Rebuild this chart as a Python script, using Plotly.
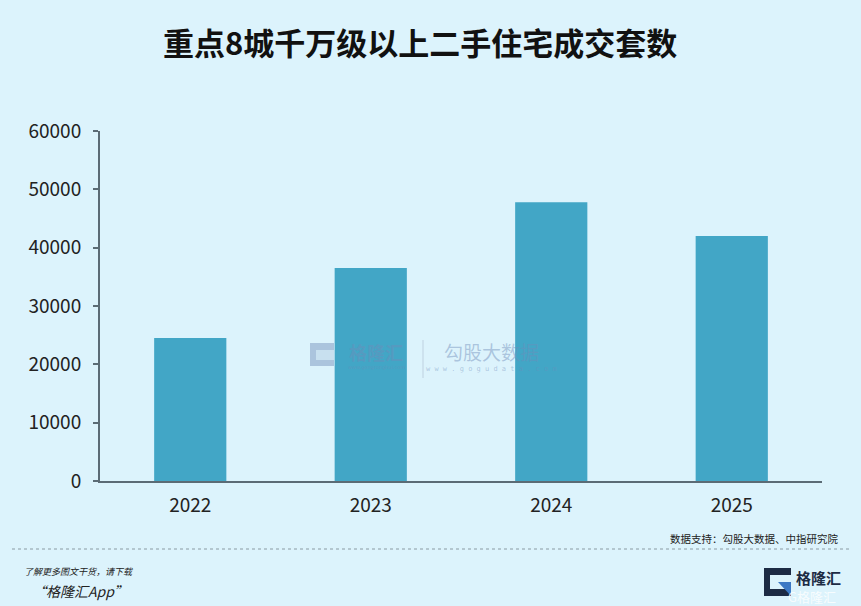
import plotly.graph_objects as go

years = ["2022", "2023", "2024", "2025"]
deals = [24500, 36500, 47800, 42000]
y_ticks = [0, 10000, 20000, 30000, 40000, 50000, 60000]

title_text = "重点8城千万级以上二手住宅成交套数"
source_text = "数据支持：勾股大数据、中指研究院"
promo_line1 = "了解更多图文干货，请下载"
promo_line2 = "“格隆汇App”"

BG = "#dcf3fc"
BAR = "#42a6c6"
AXIS = "#5b6b75"
FONT = "Noto Sans CJK SC"
WM = "rgba(110,140,185,0.45)"


def px(x):
    return (x - 100) / 722


def py(y):
    return (481 - y) / 350


fig = go.Figure()
fig.add_trace(go.Bar(x=years, y=deals, marker=dict(color=BAR, line=dict(width=0)),
                     width=0.4, hoverinfo="x+y"))

fig.update_layout(
    width=861, height=606,
    paper_bgcolor=BG, plot_bgcolor=BG,
    margin=dict(l=100, r=39, t=131, b=125),
    font=dict(family=FONT, color="#222222"),
    showlegend=False,
    title=dict(text="<b>" + title_text + "</b>", x=0.488, xanchor="center", y=0.927, yanchor="middle",
               font=dict(size=31, color="#111111", family=FONT)),
    xaxis=dict(type="category", showline=True, linecolor=AXIS, linewidth=2,
               ticks="", showgrid=False, tickfont=dict(size=19, color="#222222"),
               ticklabelstandoff=6, fixedrange=True),
    yaxis=dict(range=[0, 60000], tickvals=y_ticks, ticktext=[str(v) for v in y_ticks],
               showline=True, linecolor=AXIS, linewidth=2, ticks="outside", ticklen=5,
               tickcolor=AXIS, tickwidth=2, showgrid=False, zeroline=False,
               tickfont=dict(size=19, color="#222222"), ticklabelstandoff=8, fixedrange=True),
)

# watermark
fig.add_shape(type="rect", xref="paper", yref="paper", x0=px(310), x1=px(334),
              y0=py(366), y1=py(343), fillcolor=WM, line=dict(width=0))
fig.add_shape(type="rect", xref="paper", yref="paper", x0=px(316), x1=px(334),
              y0=py(360), y1=py(350), fillcolor="rgba(220,243,252,0.6)", line=dict(width=0))
fig.add_annotation(text="<b>格隆汇</b>", xref="paper", yref="paper", x=px(376), y=py(352),
                   showarrow=False, font=dict(size=18, color=WM, family=FONT))
fig.add_annotation(text="www.gongronghui.com", xref="paper", yref="paper", x=px(376), y=py(373),
                   showarrow=False, font=dict(size=5, color=WM, family="DejaVu Sans"))
fig.add_annotation(text="勾股大数据", xref="paper", yref="paper", x=px(491), y=py(351),
                   showarrow=False, font=dict(size=19, color=WM, family=FONT))
fig.add_annotation(text="w w w . g o g u d a t a . c o m", xref="paper", yref="paper", x=px(491), y=py(375),
                   showarrow=False, font=dict(size=7, color=WM, family="DejaVu Sans Mono"))
fig.add_shape(type="line", xref="paper", yref="paper", x0=px(423), x1=px(423),
              y0=py(378), y1=py(340), line=dict(color="rgba(150,170,190,0.45)", width=1))

# footer
fig.add_annotation(text=source_text, xref="paper", yref="paper", x=px(840), y=py(538),
                   xanchor="right", yanchor="middle", showarrow=False,
                   font=dict(size=10.5, color="#222222", family=FONT))
fig.add_shape(type="line", xref="paper", yref="paper", x0=px(12), x1=px(852),
              y0=py(549), y1=py(549), line=dict(color="#8a9aa3", width=1, dash="dot"))
fig.add_annotation(text="<i>" + promo_line1 + "</i>", xref="paper", yref="paper", x=px(22), y=py(571),
                   xanchor="left", yanchor="middle", showarrow=False,
                   font=dict(size=9, color="#222222", family=FONT))
fig.add_annotation(text="<i>" + promo_line2 + "</i>", xref="paper", yref="paper", x=px(30), y=py(591),
                   xanchor="left", yanchor="middle", showarrow=False,
                   font=dict(size=14, color="#222222", family=FONT))

# bottom-right logo
fig.add_shape(type="rect", xref="paper", yref="paper", x0=px(764), x1=px(791),
              y0=py(596), y1=py(568), fillcolor="#1d2b44", line=dict(width=0))
fig.add_shape(type="rect", xref="paper", yref="paper", x0=px(770), x1=px(791),
              y0=py(589), y1=py(575), fillcolor=BG, line=dict(width=0))
fig.add_shape(type="path", xref="paper", yref="paper",
              path="M %f %f L %f %f L %f %f Z" % (px(778), py(582), px(791), py(582), px(791), py(596)),
              fillcolor="#3b78c4", line=dict(width=0))
fig.add_annotation(text="<b>格隆汇</b>", xref="paper", yref="paper", x=px(794), y=py(577),
                   xanchor="left", yanchor="middle", showarrow=False,
                   font=dict(size=15, color="#1d2b44", family=FONT))
fig.add_annotation(text="G格隆汇", xref="paper", yref="paper", x=px(786), y=py(596),
                   xanchor="left", yanchor="middle", showarrow=False,
                   font=dict(size=13, color="rgba(255,255,255,0.8)", family=FONT))

fig.write_html("out.html", config={"displayModeBar": False},
               post_script="document.body.style.margin='0';document.body.style.background='" + BG + "';")
